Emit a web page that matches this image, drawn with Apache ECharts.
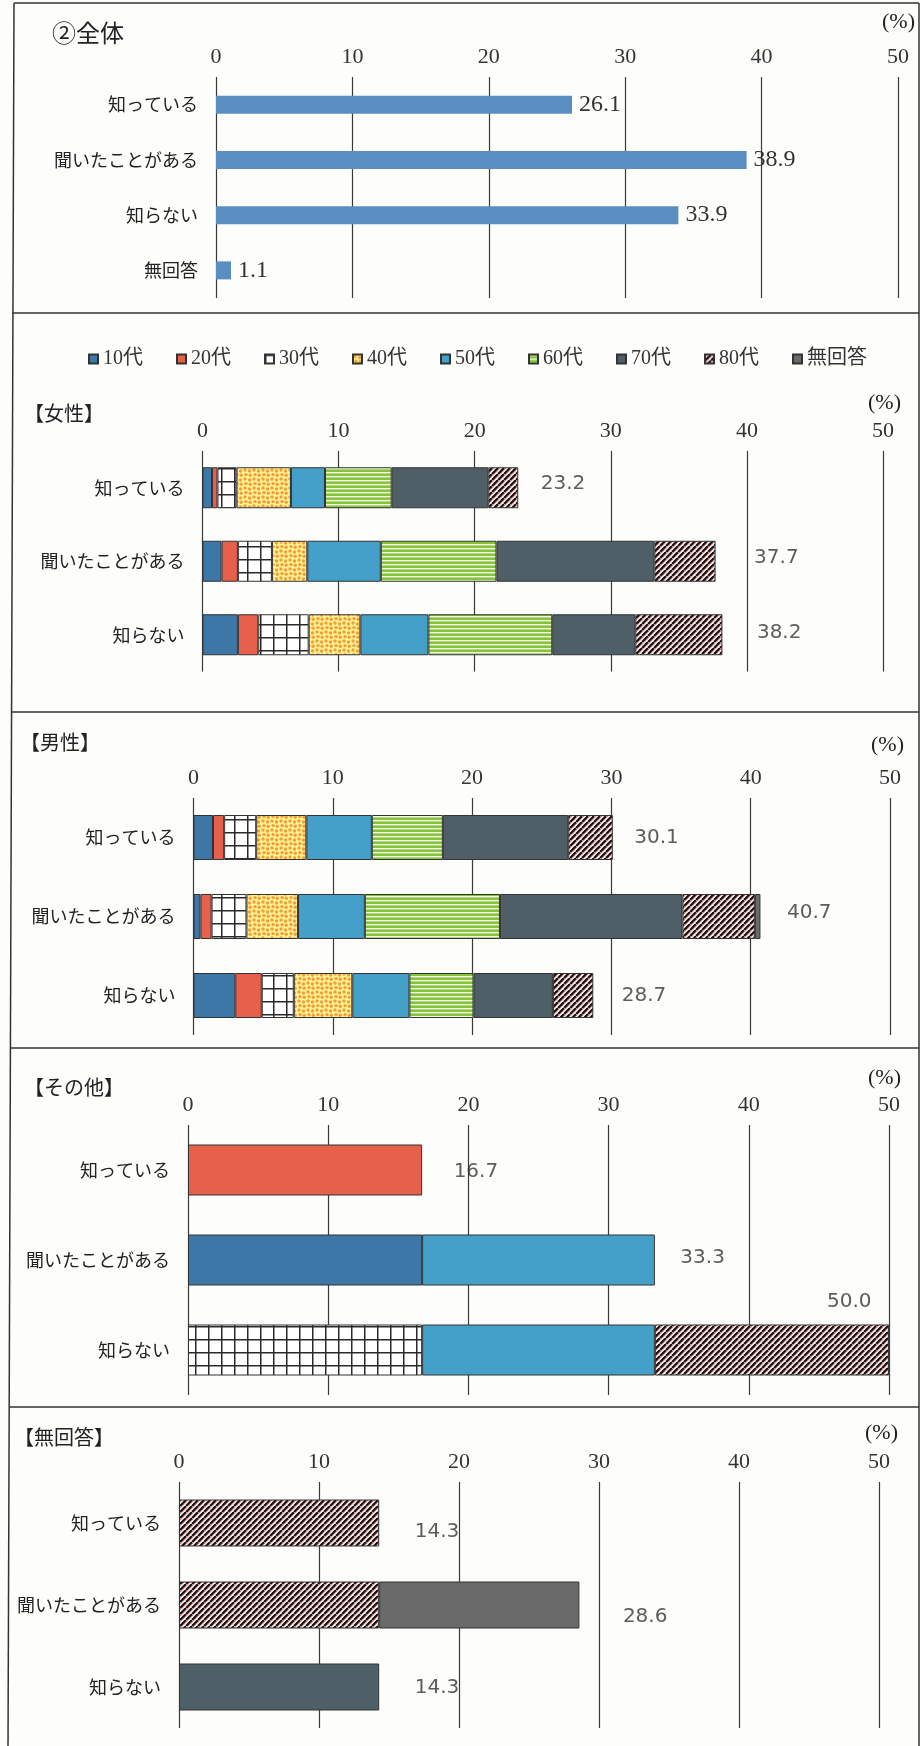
<!DOCTYPE html>
<html>
<head>
<meta charset="utf-8">
<script src="https://cdn.jsdelivr.net/npm/echarts@6/dist/echarts.min.js"></script>
<style>
  html, body { margin: 0; padding: 0; background: #fdfdfb; }
  #chart { width: 920px; height: 1746px; }
</style>
</head>
<body>
<div id="chart"></div>
<script>
// ---------------- DATA ----------------
const categoriesAll = ['知っている', '聞いたことがある', '知らない', '無回答'];
const categories3 = ['知っている', '聞いたことがある', '知らない'];
const ageGroups = ['10代', '20代', '30代', '40代', '50代', '60代', '70代', '80代', '無回答'];
const xTicks = [0, 10, 20, 30, 40, 50];

const overallValues = [26.1, 38.9, 33.9, 1.1];

// rows: 知っている / 聞いたことがある / 知らない ; columns: ageGroups
const femaleKnow    = [0.7, 0.4, 1.4, 4.0, 2.5, 4.9, 7.1, 2.2, 0];
const femaleHeard   = [1.4, 1.2, 2.5, 2.6, 5.4, 8.5, 11.6, 4.5, 0];
const femaleUnaware = [2.6, 1.5, 3.7, 3.8, 5.0, 9.1, 6.1, 6.4, 0];
const femaleTotals  = [23.2, 37.7, 38.2];

const maleKnow    = [1.4, 0.8, 2.3, 3.6, 4.7, 5.1, 9.0, 3.2, 0];
const maleHeard   = [0.5, 0.8, 2.5, 3.7, 4.8, 9.7, 13.1, 5.2, 0.4];
const maleUnaware = [3.0, 1.9, 2.3, 4.2, 4.1, 4.6, 5.7, 2.9, 0];
const maleTotals  = [30.1, 40.7, 28.7];

const otherKnow    = [0, 16.7, 0, 0, 0, 0, 0, 0, 0];
const otherHeard   = [16.7, 0, 0, 0, 16.6, 0, 0, 0, 0];
const otherUnaware = [0, 0, 16.7, 0, 16.6, 0, 0, 16.7, 0];
const otherTotals  = [16.7, 33.3, 50.0];

const naKnow    = [0, 0, 0, 0, 0, 0, 0, 14.3, 0];
const naHeard   = [0, 0, 0, 0, 0, 0, 0, 14.3, 14.3];
const naUnaware = [0, 0, 0, 0, 0, 0, 14.3, 0, 0];
const naTotals  = [14.3, 28.6, 14.3];

// ---------------- STYLE / LAYOUT ----------------
const NUM_FONT = "'Liberation Serif', 'Noto Sans CJK JP', serif";
const JP_FONT = "'Noto Sans CJK JP', sans-serif";
const VAL_FONT = "'DejaVu Sans', sans-serif";

function makeCanvas(w, h, draw) {
  const c = document.createElement('canvas');
  c.width = w; c.height = h;
  draw(c.getContext('2d'));
  return c;
}
const pat30 = makeCanvas(13, 13, g => {
  g.fillStyle = '#ffffff'; g.fillRect(0, 0, 13, 13);
  g.strokeStyle = '#2a2a2a'; g.lineWidth = 1.5;
  g.beginPath(); g.moveTo(0.75, 0); g.lineTo(0.75, 13); g.moveTo(0, 0.75); g.lineTo(13, 0.75); g.stroke();
});
const pat40 = makeCanvas(9, 9, g => {
  g.fillStyle = '#fff39a'; g.fillRect(0, 0, 9, 9);
  g.fillStyle = '#f39f35';
  [[2, 2], [6.5, 3], [3, 6.6], [7.2, 7.3]].forEach(([x, y]) => { g.beginPath(); g.arc(x, y, 1.7, 0, Math.PI * 2); g.fill(); });
});
const pat60 = makeCanvas(4, 4, g => {
  g.fillStyle = '#86c23a'; g.fillRect(0, 0, 4, 4);
  g.fillStyle = '#f3fae6'; g.fillRect(0, 0, 4, 1.4);
});
const pat80 = makeCanvas(6, 6, g => {
  g.fillStyle = '#ffffff'; g.fillRect(0, 0, 6, 6);
  g.strokeStyle = '#111'; g.lineWidth = 2.2;
  g.beginPath();
  [-6, 0, 6].forEach(k => { g.moveTo(k, 6); g.lineTo(k + 6, 0); });
  g.stroke();
  g.strokeStyle = '#d03838'; g.lineWidth = 0.8;
  g.beginPath();
  [-12, -6, 0, 6].forEach(k => { g.moveTo(k + 2.2, 6); g.lineTo(k + 8.2, 0); });
  g.stroke();
});
const ageColors = [
  '#3d77a7',
  '#e6604b',
  { image: pat30, repeat: 'repeat' },
  { image: pat40, repeat: 'repeat' },
  '#45a0c9',
  { image: pat60, repeat: 'repeat' },
  '#4e5f68',
  { image: pat80, repeat: 'repeat' },
  '#6a6a6a'
];

const panels = [
  { left: 216, width: 682, top: 77, height: 221, barWidth: 18 },
  { left: 202.5, width: 680.5, top: 451, height: 220.5, barWidth: 41 },
  { left: 193.5, width: 696.5, top: 798, height: 237, barWidth: 45 },
  { left: 188, width: 701, top: 1125, height: 270, barWidth: 51 },
  { left: 179, width: 700, top: 1482, height: 246, barWidth: 47 }
];
const labelOffsets = [
  null,
  [[22, -4], [38, -3], [34, -2]],
  [[21, 0], [26, -4], [28, 0]],
  [[31, 2], [25, -2], [-17, -48]],
  [[35, 9], [43, 12], [35, 1]]
];

const stackedPanels = [
  { rows: [femaleKnow, femaleHeard, femaleUnaware], totals: femaleTotals },
  { rows: [maleKnow, maleHeard, maleUnaware], totals: maleTotals },
  { rows: [otherKnow, otherHeard, otherUnaware], totals: otherTotals },
  { rows: [naKnow, naHeard, naUnaware], totals: naTotals }
];

// ---------------- OPTION ----------------
const grids = [], xAxes = [], yAxes = [], series = [];
panels.forEach((p, i) => {
  grids.push({ left: p.left, top: p.top, width: p.width, height: p.height, containLabel: false, outerBoundsMode: 'none' });
  xAxes.push({
    type: 'value', gridIndex: i, position: 'top',
    min: xTicks[0], max: xTicks[xTicks.length - 1], interval: xTicks[1] - xTicks[0],
    axisLine: { show: false }, axisTick: { show: false },
    axisLabel: { margin: 9, fontSize: 22, fontFamily: NUM_FONT, color: '#333' },
    splitLine: { show: true, lineStyle: { color: '#3a3a3a', width: 1.2 } }
  });
  yAxes.push({
    type: 'category', gridIndex: i, inverse: true,
    data: i === 0 ? categoriesAll : categories3,
    axisLine: { show: false }, axisTick: { show: false }, splitLine: { show: false },
    axisLabel: { margin: 18, fontSize: 18, fontFamily: JP_FONT, color: '#222' }
  });
});

series.push({
  type: 'bar', name: '全体', xAxisIndex: 0, yAxisIndex: 0,
  data: overallValues, barWidth: panels[0].barWidth,
  itemStyle: { color: '#5a8ec1' },
  label: { show: true, position: 'right', distance: 7, fontFamily: NUM_FONT, fontSize: 24, color: '#333',
           formatter: p => p.value.toFixed(1) }
});

stackedPanels.forEach((sp, k) => {
  const pi = k + 1;
  ageGroups.forEach((age, a) => {
    series.push({
      type: 'bar', name: age, stack: 'p' + pi, xAxisIndex: pi, yAxisIndex: pi,
      barWidth: panels[pi].barWidth,
      data: sp.rows.map(r => (r[a] ? r[a] : '-')),
      itemStyle: { color: ageColors[a], borderColor: '#333', borderWidth: 1 },
      label: { show: false }
    });
  });
  series.push({
    type: 'scatter', xAxisIndex: pi, yAxisIndex: pi, symbolSize: 1, silent: true, z: 5,
    itemStyle: { color: 'rgba(0,0,0,0)' },
    data: sp.totals.map((t, i) => {
      const off = labelOffsets[pi][i];
      return { value: [t, i], label: { position: off[0] < 0 ? 'left' : 'right', offset: [off[0], off[1]] } };
    }),
    label: { show: true, distance: 0, fontFamily: VAL_FONT, fontSize: 20, color: '#333',
             formatter: p => p.value[0].toFixed(1) }
  });
});

function txt(text, x, y, size, font, align) {
  return { type: 'text', x: x, y: y, z: 10, silent: true,
           style: { text: text, font: size + 'px ' + font, fill: '#222', align: align || 'left', verticalAlign: 'middle' } };
}
function ln(x1, y1, x2, y2) {
  return { type: 'line', z: 10, silent: true, shape: { x1, y1, x2, y2 }, style: { stroke: '#333', lineWidth: 1.5 } };
}

const graphics = [
  ln(14, 3, 919, 3), ln(14, 3, 8, 1746), ln(919, 3, 919, 1746),
  ln(12, 313, 919, 313), ln(12, 712, 919, 712), ln(10, 1048, 919, 1048), ln(9, 1407, 919, 1407),
  txt('②全体', 52, 33, 24, JP_FONT),
  txt('【女性】', 24, 413, 20, JP_FONT),
  txt('【男性】', 20, 742, 20, JP_FONT),
  txt('【その他】', 24, 1087, 20, JP_FONT),
  txt('【無回答】', 14, 1437, 20, JP_FONT),
  txt('(%)', 915, 22, 22, NUM_FONT, 'right'),
  txt('(%)', 901, 403, 22, NUM_FONT, 'right'),
  txt('(%)', 904, 745, 22, NUM_FONT, 'right'),
  txt('(%)', 901, 1078, 22, NUM_FONT, 'right'),
  txt('(%)', 898, 1433, 22, NUM_FONT, 'right')
];

const option = {
  backgroundColor: '#fdfdfb',
  animation: false,
  legend: {
    data: ageGroups, left: 88, top: 349, padding: 0, itemGap: 33,
    itemWidth: 9, itemHeight: 9, icon: 'rect', selectedMode: false,
    textStyle: { fontSize: 20, fontFamily: NUM_FONT, color: '#333', padding: [0, 0, 0, 0] }
  },
  grid: grids, xAxis: xAxes, yAxis: yAxes, series: series, graphic: graphics
};

const chart = echarts.init(document.getElementById('chart'), null, { renderer: 'canvas' });
chart.setOption(option);
</script>
</body>
</html>
